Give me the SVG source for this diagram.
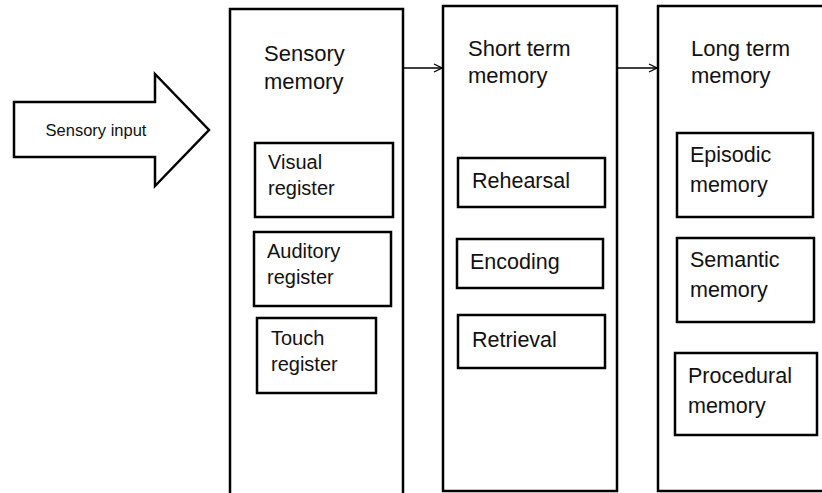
<svg xmlns="http://www.w3.org/2000/svg" width="822" height="493" viewBox="0 0 822 493">
<defs>
<style>
.box{fill:#fff;stroke:#000;stroke-width:2.5}
.sub{fill:#fff;stroke:#000;stroke-width:2.5}
.t{font-family:"Liberation Sans",Arial,sans-serif;fill:#111}
.title{font-size:22px}
.lbl{font-size:21.5px}
.reg{font-size:20px}
.conn{stroke:#000;stroke-width:1.3;fill:none}
</style>
<marker id="open" viewBox="0 0 10 10" refX="9" refY="5" markerWidth="10" markerHeight="10" markerUnits="userSpaceOnUse" orient="auto">
<path d="M1,1 L9,5 L1,9" fill="none" stroke="#000" stroke-width="1.3"/>
</marker>
</defs>
<rect width="822" height="493" fill="#fff"/>

<g id="sensory-input">
<polygon points="14,102 155,102 155,74 209,130 155,186 155,157 14,157" fill="#fff" stroke="#000" stroke-width="2.5" stroke-linejoin="miter"/>
<text class="t" x="96" y="136" font-size="16.5" text-anchor="middle">Sensory input</text>
</g>

<g id="sensory-memory">
<rect class="box" x="230" y="9" width="173" height="500"/>
<text class="t title" x="264" y="61">Sensory</text>
<text class="t title" x="264" y="89">memory</text>
</g>
<g id="visual-register">
<rect class="sub" x="255" y="143" width="138" height="74"/>
<text class="t reg" x="268" y="169">Visual</text>
<text class="t reg" x="268" y="195">register</text>
</g>
<g id="auditory-register">
<rect class="sub" x="254" y="232" width="137" height="74"/>
<text class="t reg" x="267" y="258">Auditory</text>
<text class="t reg" x="267" y="284">register</text>
</g>
<g id="touch-register">
<rect class="sub" x="257" y="318" width="119" height="75"/>
<text class="t reg" x="271" y="345">Touch</text>
<text class="t reg" x="271" y="371">register</text>
</g>

<g id="short-term-memory">
<rect class="box" x="443" y="6" width="174" height="485"/>
<text class="t title" x="468" y="56">Short term</text>
<text class="t title" x="468" y="83">memory</text>
</g>
<g id="rehearsal">
<rect class="sub" x="458" y="158" width="147" height="49"/>
<text class="t lbl" x="472" y="188">Rehearsal</text>
</g>
<g id="encoding">
<rect class="sub" x="457" y="239" width="146" height="49"/>
<text class="t lbl" x="470" y="269">Encoding</text>
</g>
<g id="retrieval">
<rect class="sub" x="458" y="315" width="147" height="53"/>
<text class="t lbl" x="472" y="347">Retrieval</text>
</g>

<g id="long-term-memory">
<rect class="box" x="658" y="6" width="200" height="485"/>
<text class="t title" x="691" y="56">Long term</text>
<text class="t title" x="691" y="83">memory</text>
</g>
<g id="episodic-memory">
<rect class="sub" x="677" y="133" width="136" height="84"/>
<text class="t lbl" x="690" y="162">Episodic</text>
<text class="t lbl" x="690" y="192">memory</text>
</g>
<g id="semantic-memory">
<rect class="sub" x="677" y="238" width="137" height="84"/>
<text class="t lbl" x="690" y="267">Semantic</text>
<text class="t lbl" x="690" y="297">memory</text>
</g>
<g id="procedural-memory">
<rect class="sub" x="675" y="353" width="142" height="82"/>
<text class="t lbl" x="688" y="383">Procedural</text>
<text class="t lbl" x="688" y="413">memory</text>
</g>

<g id="connectors">
<line class="conn" x1="404" y1="68" x2="442" y2="68" marker-end="url(#open)"/>
<line class="conn" x1="618" y1="68" x2="657" y2="68" marker-end="url(#open)"/>
</g>
</svg>
